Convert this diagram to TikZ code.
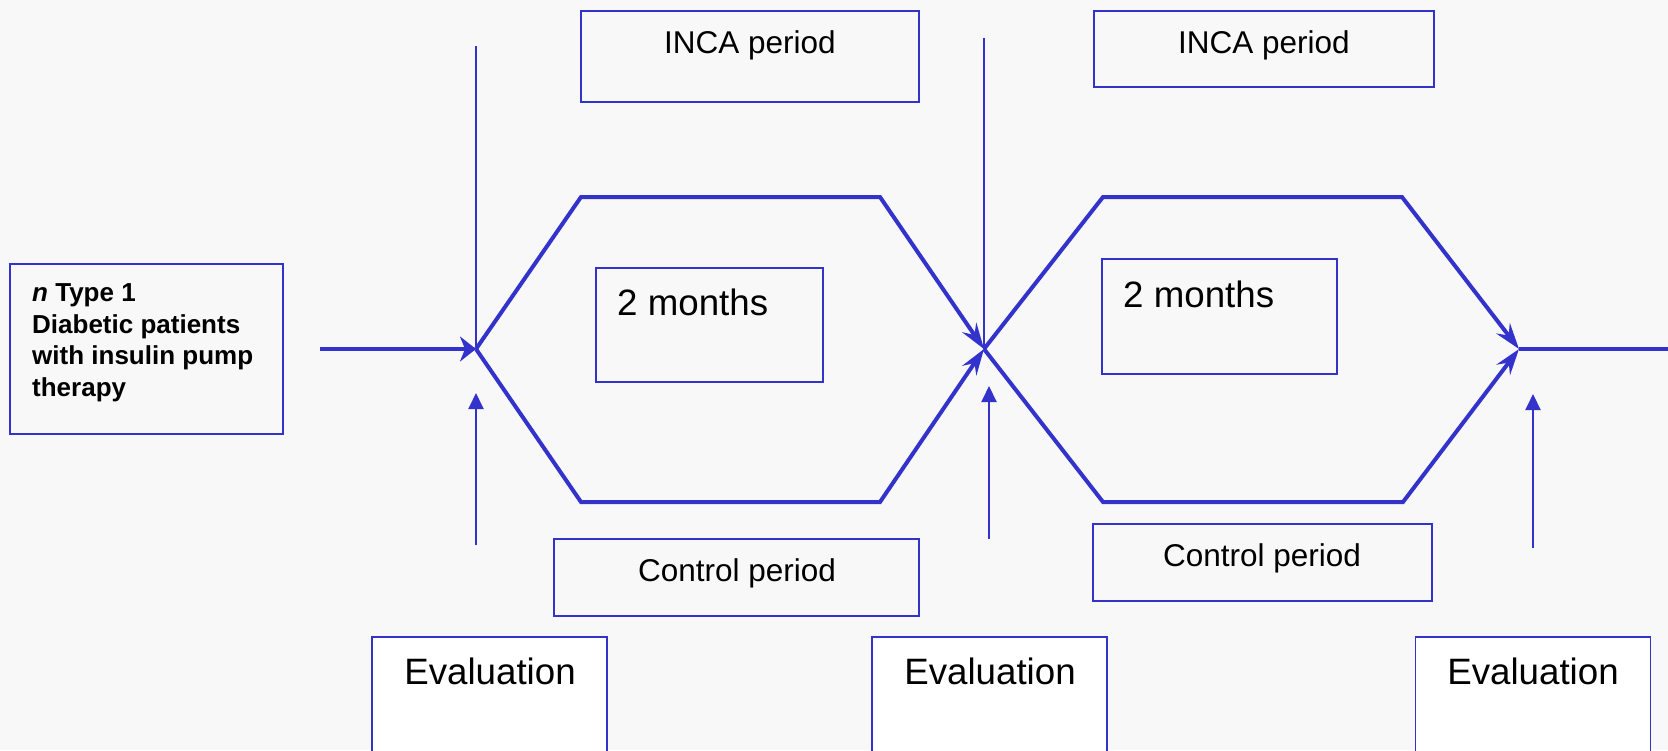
\documentclass[tikz,border=0pt]{standalone}
\usepackage{fontspec}
\setmainfont{Liberation Sans}
\usetikzlibrary{arrows.meta}
\definecolor{flow}{RGB}{51,51,204}
\definecolor{paper}{RGB}{248,248,248}

\begin{document}
\begin{tikzpicture}[x=1pt,y=-1pt,
  box/.style={draw=flow, line width=1.8pt, rectangle, inner sep=0pt},
  midtext/.style={font=\fontsize{31.5}{38}\selectfont, inner sep=0pt, anchor=base},
  bigtext/.style={font=\fontsize{36.7}{44}\selectfont, inner sep=0pt},
  route/.style={draw=flow, line width=4pt, line join=miter,
    -{Stealth[length=26pt, width=17pt, inset=9pt]}},
  entry/.style={draw=flow, line width=4pt,
    -{Stealth[length=16pt, width=25pt, inset=5pt]}},
  plain/.style={draw=flow, line width=4pt},
  marker/.style={draw=flow, line width=2pt},
  markerarrow/.style={draw=flow, line width=2pt, -{Triangle[length=16pt, width=15pt]}}]

% canvas
\fill[paper] (0,0) rectangle (1668,750);
\useasboundingbox (0,0) rectangle (1668,750);
\clip (0,0) rectangle (1668,750);

% population box
\node[box, minimum width=273pt, minimum height=170pt] (patients) at (146.5,349) {};
\node[anchor=north west, inner sep=0pt, align=left,
      font=\fontsize{26}{31.7}\selectfont\bfseries] (patientstext) at (32,283.5)
  {\textit{n} Type 1\\Diabetic patients\\with insulin pump\\therapy};

% period boxes
\node[box, minimum width=338pt, minimum height=91pt] (inca1) at (750,56.5) {};
\node[midtext] (inca1text) at (750,53) {INCA period};
\node[box, minimum width=340pt, minimum height=76pt] (inca2) at (1264,49) {};
\node[midtext] (inca2text) at (1264,53) {INCA period};

\node[box, minimum width=365pt, minimum height=77pt] (ctrl1) at (736.5,577.5) {};
\node[midtext] (ctrl1text) at (737,581) {Control period};
\node[box, minimum width=339pt, minimum height=77pt] (ctrl2) at (1262.5,562.5) {};
\node[midtext] (ctrl2text) at (1262,566) {Control period};

% duration boxes
\node[box, minimum width=227pt, minimum height=114pt] (months1) at (709.5,325) {};
\node[bigtext, anchor=base west] (months1text) at (617,315) {2 months};
\node[box, minimum width=235pt, minimum height=115pt] (months2) at (1219.5,316.5) {};
\node[bigtext, anchor=base west] (months2text) at (1123,307) {2 months};

% evaluation boxes
\node[box, fill=white, minimum width=235pt, minimum height=160pt] (eval1) at (489.5,717) {};
\node[bigtext, anchor=base] (eval1text) at (490,684) {Evaluation};
\node[box, fill=white, minimum width=235pt, minimum height=160pt] (eval2) at (989.5,717) {};
\node[bigtext, anchor=base] (eval2text) at (990,684) {Evaluation};
\node[box, fill=white, minimum width=235pt, minimum height=160pt] (eval3) at (1533,717) {};
\node[bigtext, anchor=base] (eval3text) at (1533,684) {Evaluation};

% junction points of the two crossover loops
\coordinate (start) at (320,349);
\coordinate (t0) at (476,349);
\coordinate (t1) at (984,349);
\coordinate (t2) at (1519,349);
\coordinate (finish) at (1668,349);
\coordinate (a1) at (581,197);  \coordinate (a2) at (880,197);
\coordinate (c1) at (581,502);  \coordinate (c2) at (880,502);
\coordinate (d1) at (1103,197); \coordinate (d2) at (1402,197);
\coordinate (e1) at (1103,502); \coordinate (e2) at (1403,502);

% time markers
\coordinate (top0) at (476,46);
\coordinate (top1) at (984,38);
\coordinate (foot0) at (476,545);  \coordinate (head0) at (476,393);
\coordinate (foot1) at (989,539);  \coordinate (head1) at (989,386);
\coordinate (foot2) at (1533,548); \coordinate (head2) at (1533,394);

% flow
\draw[entry] (start) -- (t0);
\draw[route] (t0) -- (a1) -- (a2) -- (t1);
\draw[route] (t0) -- (c1) -- (c2) -- (t1);
\draw[route] (t1) -- (d1) -- (d2) -- (t2);
\draw[route] (t1) -- (e1) -- (e2) -- (t2);
\draw[plain] (t2) -- (finish);

\draw[marker] (top0) -- (t0);
\draw[marker] (top1) -- (t1);
\draw[markerarrow] (foot0) -- (head0);
\draw[markerarrow] (foot1) -- (head1);
\draw[markerarrow] (foot2) -- (head2);
\end{tikzpicture}
\end{document}
